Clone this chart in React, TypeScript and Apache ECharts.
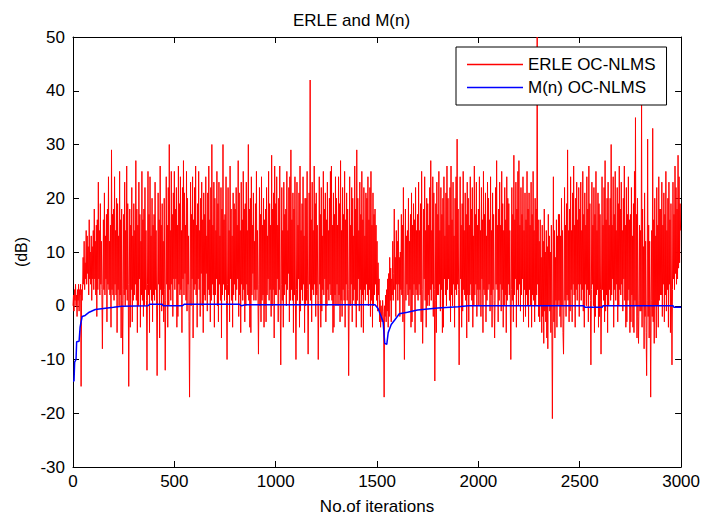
import React, { useEffect, useRef } from "react";
import * as echarts from "echarts";

// ERLE OC-NLMS, one value every ERLE_STEP iterations (dB)
const ERLE_STEP = 2.5;
const erleValues: number[] = [
  0, 2, -1, 3, 1, 4, 0, 2, -2, 3, 1, 4, -1, 3, 2, 4, -15, 3, 1, 4,
  9, 4, 12, 3, 8, 5, 14, 4, 13, 6, 11, 2, 16, 5, 10, 4, 13, 1, 11, 5,
  14, 3, 18, 5, 12, 2, 15, -2, 16, 3, 23, 5, 14, 2, 19, 4, 12, 3, -8, 4,
  16, 3, 21, 2, 13, 5, 17, -3, 18, 4, 24, 3, 12, 2, 15, -4, 29, 3, 17, 2,
  18, 1, 24, 4, 14, 2, 20, -5, 19, 3, 13, 0, 25, 2, 16, -6, 18, 1, -9, 3,
  17, 2, 23, 0, 14, 3, 26, 1, 19, 4, -15, 2, 18, -4, 15, 3, 22, -3, 13, 1,
  19, 2, 14, 4, 27, 1, 18, -5, 15, 0, 23, 5, 17, -4, 12, 2, 25, 1, 16, -2,
  18, 0, 22, 3, 14, 1, -12, 4, 25, 2, 17, -5, 24, 3, 13, 1, 20, -3, 15, 2,
  17, 1, 23, 3, 14, 0, -13, 2, 21, 4, 16, -6, 26, 3, 15, -1, 19, 2, 12, -3,
  20, 3, -12, 1, 24, 4, 15, -4, 22, 0, 30, 3, 14, 1, 25, 4, 17, -2, 21, 5,
  25, 3, 18, 5, 22, -4, 15, -2, 26, 4, 19, 2, 24, 3, 14, -5, 22, 5, 27, 2,
  21, 6, 15, 1, 25, -1, 20, 4, 13, -3, -17, 3, 23, 0, 17, 5, 24, -6, 16, 3,
  22, 4, 26, 2, 15, -4, 19, 5, 25, 3, 14, -2, 20, 6, 23, 0, 16, -5, 21, 2,
  17, 1, 24, 6, 13, -1, 21, 3, 26, 2, 16, -3, 22, 1, 30, 4, 15, 2, 23, -4,
  20, 2, 14, 5, 25, 0, 19, -3, 23, 4, 13, 1, 22, -6, 18, 2, 30, 4, 16, 1,
  17, 3, 24, 1, -10, 4, 22, 2, 14, -3, 26, 5, 18, 1, 13, -4, 21, 2, 19, 4,
  18, 1, 22, 3, 15, 5, 27, -2, 21, 2, 14, -5, 23, 4, 16, 1, 25, 3, 18, -3,
  19, 0, 23, 4, 14, 2, 30, 1, 18, -4, 20, -5, 24, 2, 15, 6, 21, 1, 12, 3,
  19, 1, 25, 3, 14, 2, -9, 4, 22, 0, 17, -3, 24, 1, 15, 2, 20, -4, 16, 0,
  18, -3, 22, 2, 13, 5, 25, 1, 19, 3, 15, -2, 28, 0, 18, 3, 21, -6, 26, 2,
  19, 2, 24, 5, 15, -3, 20, 3, 26, 0, -11, 4, 22, 1, 14, -4, 23, 2, 17, 4,
  18, 0, 25, 3, 14, 6, 22, -3, 24, 1, 29, 3, 16, 1, 21, -5, 18, 2, 24, 0,
  -10, 3, 23, 1, 15, 5, 21, -4, 26, -1, 14, 3, 19, 1, 24, 4, 13, -5, 20, 0,
  20, 1, 25, 3, -9, 2, 21, 4, 42, 1, 16, -3, 23, 3, 14, 2, 26, 4, 19, -2,
  21, 2, 15, 3, -10, 1, 24, 4, 17, -4, 22, -1, 13, 3, 25, 2, 18, 5, 21, -3,
  16, 0, 23, 3, 14, 1, 20, 4, 25, 2, 26, 1, 15, -5, 21, -4, 17, 2, 24, 0,
  20, 4, 15, 0, 24, 2, 19, -3, 27, 1, 14, -2, 22, 3, 17, 1, 25, -4, 16, 4,
  21, 1, 18, 3, -13, 2, 24, 0, 15, 4, 22, -3, 20, 1, 13, 3, 26, 0, 18, -4,
  29, 1, 20, 5, 14, -1, 23, 3, 17, -4, 25, 2, 16, -5, 22, 3, 13, 1, 21, 4,
  20, 2, 24, 0, 16, 3, 22, -2, 25, 1, 15, -4, 21, 0, 17, 2, 18, 4, 15, 1,
  12, -1, 8, 2, 5, -3, 1, -4, 0, -2, -3, 1, -1, -4, -17, 0, -2, 2, -3, 3,
  -1, 5, -4, 6, -2, 9, 1, 7, -3, 5, 2, 12, 1, 6, 18, 3, 9, -2, 14, 4,
  12, 1, 16, 4, 9, -2, 10, 3, 17, 2, 15, -3, 22, 3, -10, 2, 18, 1, 13, 4,
  14, 2, 20, 0, 12, 3, 17, -4, 21, -3, 15, 2, 19, 4, 16, -5, 22, 3, 14, 2,
  17, 1, 23, 4, 14, 2, 19, -3, 25, 3, -7, 2, 18, 5, 24, 1, 14, -4, 20, 0,
  19, 2, 15, 0, 22, 3, 27, 1, 14, 4, 24, -2, 21, 3, -14, 1, 19, -5, 23, 2,
  17, 2, 25, 4, 14, -1, 22, 3, 17, -5, 20, -4, 24, 5, 13, 2, 21, 0, 26, 3,
  20, 5, 15, 1, 22, -3, 26, 2, 16, 0, 23, 4, 13, -4, 20, 3, 24, 2, 31, 4,
  18, 3, -11, 2, 24, 5, 15, -4, 19, -1, 25, 3, 14, 2, 21, 1, 17, -6, 23, 2,
  20, -3, 15, 2, 24, 4, 18, 1, 22, -4, 13, 0, 26, 2, 17, 4, 23, -2, 15, 3,
  18, 0, 24, 3, 14, -2, 22, 5, 16, -5, 25, 3, 17, 2, 21, -3, 13, 1, 23, 3,
  20, 4, 16, -1, 24, 2, 14, -4, 21, 3, 17, 1, -6, 2, 22, 4, 27, 3, 15, -3,
  18, 1, 23, 4, 15, -1, 25, 3, 19, -4, 14, 0, 22, 2, 16, -5, 24, 1, 20, 4,
  19, 2, 14, 0, -10, 3, 22, 1, 17, -3, 28, 2, 16, 5, 23, -4, 18, 3, 25, 0,
  27, 4, 15, -1, 22, 2, 17, 5, 24, -3, 14, 3, 21, -2, 16, 2, 25, 0, 18, -4,
  21, 3, 15, 0, 23, -4, 17, 2, 25, 1, 14, -3, 20, 0, 18, 2, 50, 4, 16, -2,
  12, -3, 16, 0, 9, -5, 15, -2, 12, -7, 18, -1, 10, -3, 14, -6, 11, -8, 17, 0,
  13, -1, 10, -5, 15, -3, -21, 0, 24, -3, 14, -6, 9, 1, 16, -4, 13, 0, 17, 1,
  17, -2, 13, -4, 20, 0, 14, -5, -9, 2, 22, 1, 15, -2, 19, 2, 29, 1, 14, -3,
  18, -1, 24, 3, 14, -3, 21, 4, 26, 2, 15, -4, 20, 3, 23, 1, 16, 4, 22, -2,
  18, 4, 23, 1, 14, 3, 25, -1, 17, -4, 21, 4, 15, 0, 24, 3, 18, -3, 26, 2,
  19, 1, -11, 3, 23, 4, 15, 0, 22, -5, 17, -2, 25, 2, 14, 3, 21, -4, 19, -2,
  17, 3, -9, 2, 24, 3, 15, 1, 22, -3, 27, -1, 16, 2, 20, -5, 23, 0, 15, 3,
  20, 1, 30, 2, 15, 5, 24, -4, 17, 3, 25, 1, 14, 4, 22, -3, 19, 0, 26, 3,
  18, 2, 23, 4, 14, -1, 20, 5, 26, 1, 15, -4, 22, -3, 17, 1, 24, 3, 16, -5,
  17, -3, 22, 2, 13, -4, 19, -5, 25, 1, 35, 0, 17, -6, 20, -2, -7, 1, 15, -1,
  14, -1, 38, -4, 18, 0, 11, -8, 21, -2, 12, -5, -13, 1, 31, -2, 15, -6, 12, 0,
  -17, 1, 14, -2, 33, -3, 16, -7, 20, 0, 13, -6, 22, 0, 15, -4, 24, 1, 18, 2,
  18, 2, 23, -2, 15, 4, 21, -3, 17, 2, 25, -1, 14, 3, 20, -4, 23, 4, 16, -5,
  19, 2, -11, 3, 23, 5, 17, 3, 26, 6, 22, 4, 18, 5, 28, 7, 24, 8, 19, 14,
];

// M(n) OC-NLMS, read at selected iterations
const mIter: number[] = [
  0, 5, 8, 15, 18, 30, 35, 45, 60, 80, 110, 150, 200, 240, 370, 380, 440, 445,
  540, 550, 820, 830, 850, 1490, 1505, 1520, 1530, 1538, 1548, 1555, 1570, 1590,
  1610, 1650, 1700, 1750, 1800, 1900, 1950, 2520, 2525, 2610, 2615, 2960, 2965, 3000,
];
const mValues: number[] = [
  -14, -14, -10.5, -10, -6.7, -6.6, -4, -2, -1.8, -1.2, -0.7, -0.5, -0.3, -0.1, 0, 0.3, 0.3, 0,
  0, 0.3, 0.3, 0, 0.2, 0.2, -0.5, -2, -3, -7, -7.2, -5, -3.5, -2.5,
  -1.5, -1.2, -0.8, -0.6, -0.4, -0.2, 0, 0, -0.3, -0.3, 0, 0, -0.3, -0.3,
];

const xTicks = { min: 0, max: 3000, interval: 500 };
const yTicks = { min: -30, max: 50, interval: 10 };
const titleText = "ERLE and M(n)";
const xName = "No.of iterations";
const yName = "(dB)";
const seriesNames = ["ERLE OC-NLMS", "M(n) OC-NLMS"];
const seriesColors = ["#ff0000", "#0000ff"];

const FONT = "Liberation Sans, Arial, Helvetica, sans-serif";

export default function App() {
  const ref = useRef<HTMLDivElement>(null);
  useEffect(() => {
    if (!ref.current) return;
    const chart = echarts.init(ref.current, undefined, { renderer: "svg" });
    const axisLine = { show: true, onZero: false, lineStyle: { color: "#000", width: 1 } };
    const axisTick = { show: true, inside: true, length: 6, lineStyle: { color: "#000", width: 1 } };
    chart.setOption({
      animation: false,
      backgroundColor: "#fff",
      title: {
        text: titleText,
        left: "center",
        top: 7,
        textStyle: { fontFamily: FONT, fontSize: 17, fontWeight: "normal", color: "#000" },
      },
      legend: {
        data: seriesNames,
        orient: "vertical",
        left: 456,
        top: 47,
        padding: [9, 11, 9, 11],
        icon: "rect",
        itemWidth: 56,
        itemHeight: 1.5,
        itemGap: 6,
        borderColor: "#000",
        borderWidth: 1,
        backgroundColor: "#fff",
        textStyle: { fontFamily: FONT, fontSize: 17, color: "#000", lineHeight: 17 },
      },
      grid: { left: 73, right: 20, top: 37, bottom: 47, containLabel: false },
      xAxis: [
        {
          type: "value",
          ...xTicks,
          position: "bottom",
          axisLine,
          axisTick,
          splitLine: { show: false },
          axisLabel: {
            color: "#000",
            fontFamily: FONT,
            fontSize: 17,
            margin: 6,
            formatter: (v: number) => String(v),
          },
          name: xName,
          nameLocation: "middle",
          nameGap: 31,
          nameTextStyle: { color: "#000", fontFamily: FONT, fontSize: 17 },
        },
        {
          type: "value",
          ...xTicks,
          position: "top",
          axisLine,
          axisTick,
          splitLine: { show: false },
          axisLabel: { show: false },
        },
      ],
      yAxis: [
        {
          type: "value",
          ...yTicks,
          position: "left",
          axisLine,
          axisTick,
          splitLine: { show: false },
          axisLabel: {
            color: "#000",
            fontFamily: FONT,
            fontSize: 17,
            margin: 8,
            formatter: (v: number) => String(v),
          },
          name: yName,
          nameLocation: "middle",
          nameGap: 41,
          nameTextStyle: { color: "#000", fontFamily: FONT, fontSize: 16 },
        },
        {
          type: "value",
          ...yTicks,
          position: "right",
          axisLine,
          axisTick,
          splitLine: { show: false },
          axisLabel: { show: false },
        },
      ],
      series: [
        {
          name: seriesNames[0],
          type: "line",
          xAxisIndex: 0,
          yAxisIndex: 0,
          symbol: "none",
          lineStyle: { color: seriesColors[0], width: 1 },
          itemStyle: { color: seriesColors[0] },
          data: erleValues.map((v, i) => [i * ERLE_STEP, v]),
          z: 2,
        },
        {
          name: seriesNames[1],
          type: "line",
          xAxisIndex: 0,
          yAxisIndex: 0,
          symbol: "none",
          lineStyle: { color: seriesColors[1], width: 1.5 },
          itemStyle: { color: seriesColors[1] },
          data: mIter.map((x, i) => [x, mValues[i]]),
          z: 3,
        },
      ],
    });
    return () => chart.dispose();
  }, []);
  return <div ref={ref} style={{ width: 703, height: 520, position: "absolute", left: 0, top: 0 }} />;
}
